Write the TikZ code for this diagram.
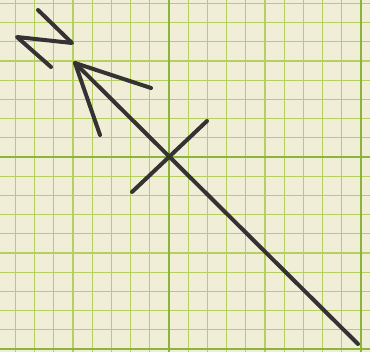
\documentclass[tikz,border=0pt]{standalone}
\definecolor{paper}{RGB}{241,238,216}
\definecolor{minorgrid}{RGB}{182,207,96}
\definecolor{majorgrid}{RGB}{138,180,58}
\definecolor{ink}{RGB}{52,50,50}
\tikzset{
  minorline/.style={draw=minorgrid,line width=1.3pt},
  majorline/.style={draw=majorgrid,line width=2.4pt},
  pen/.style={draw=ink,line width=4pt,line cap=round,line join=round}
}
\begin{document}
\begin{tikzpicture}[x=1pt,y=-1pt]
\fill[paper] (0,0) rectangle (370,352);
\useasboundingbox (0,0) rectangle (370,352);
% minor grid
\foreach \k in {-8,...,10} {
  \draw[minorline] ({169+19.2*\k},0) -- ({169+19.2*\k},352);
}
\foreach \k in {-8,...,10} {
  \draw[minorline] (0,{157+19.2*\k}) -- (370,{157+19.2*\k});
}
% major grid
\foreach \x in {169,361} \draw[majorline] (\x,0) -- (\x,352);
\foreach \y in {157,349} \draw[majorline] (0,\y) -- (370,\y);
% north arrow
\coordinate (tip) at (75,63);
\coordinate (tail) at (358,344);
\coordinate (wingA) at (151,88);
\coordinate (wingB) at (100,135);
\coordinate (barA) at (132,192);
\coordinate (barB) at (207,121);
\draw[pen] (tail) -- (tip);
\draw[pen] (wingA) -- (tip) -- (wingB);
\draw[pen] (barA) -- (barB);
% letter N
\coordinate (n1) at (38,10);
\coordinate (n2) at (72,43);
\coordinate (n3) at (17,37);
\coordinate (n4) at (51,67);
\draw[pen] (n1) -- (n2) -- (n3) -- (n4);
\end{tikzpicture}
\end{document}
